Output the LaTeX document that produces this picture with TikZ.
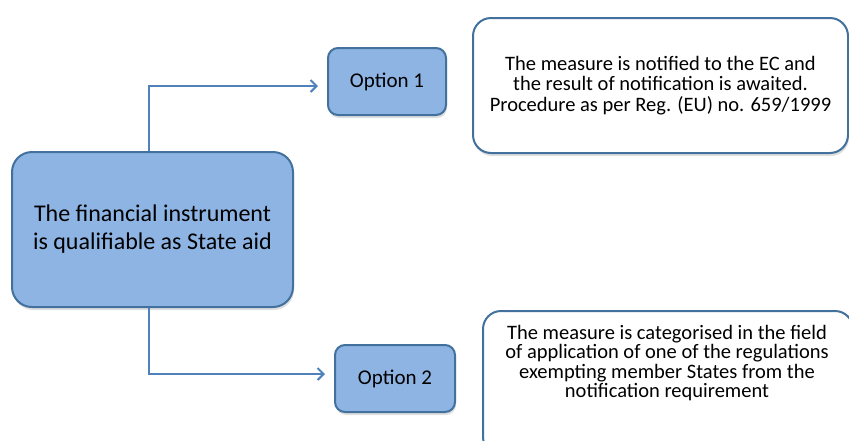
\documentclass[tikz,border=0pt]{standalone}
\usepackage{fontspec}
\setmainfont{Carlito}
\usetikzlibrary{arrows,arrows.meta,shadows}
\tikzset{%
  box/.style={rectangle,rounded corners=#1,draw=c1,line width=2pt,fill=c0,
    drop shadow={shadow xshift=1pt,shadow yshift=-3pt,opacity=.25}},
  box/.default=10pt,
  note/.style={box=18pt,fill=white,align=center,font=\fontsize{20.5}{20.5}\selectfont},
  link/.style={c2,line width=2pt,-{Straight Barb[length=6pt,width=12pt]},shorten >=9pt}
}
\definecolor{c0}{RGB}{142,180,227}
\definecolor{c1}{RGB}{65,113,156}
\definecolor{c2}{RGB}{79,129,189}

\begin{document}
\begin{tikzpicture}[x=1pt,y=-1pt]
  \useasboundingbox (0,0) rectangle (849,440);
  \clip (0,0) rectangle (849,440);
  \node[box=20pt,minimum width=281pt,minimum height=155pt,align=center,
    font=\fontsize{24}{28}\selectfont] (main) at (152.5,229.5)
    {The financial instrument\\is qualifiable as State aid};
  \node[box,minimum width=118pt,minimum height=67pt,
    font=\fontsize{21}{24}\selectfont] (opt1) at (387,81.5) {Option 1};
  \node[box,minimum width=120pt,minimum height=67pt,
    font=\fontsize{21}{24}\selectfont] (opt2) at (395,378.5) {Option 2};
  %%%
  \node[note,minimum width=375pt,minimum height=135pt] (note1) at (660.5,85.5)
    {The measure is notified to the EC and\\the result of notification is awaited.\\Procedure as per Reg. (EU) no. 659/1999};
  \node[note,minimum width=370pt,minimum height=144pt] (note2) at (668,383) {};
  \node[align=center,font=\fontsize{20.5}{19.5}\selectfont] (note2txt) at (667,363)
    {The measure is categorised in the field\\of application of one of the regulations\\exempting member States from the\\notification requirement};
  %%%
  \draw[link] ([xshift=-4pt]main.north) |- ([yshift=-4.5pt]opt1.west);
  \draw[link] ([xshift=-4pt]main.south) |- ([yshift=4.5pt]opt2.west);
\end{tikzpicture}
\end{document}
